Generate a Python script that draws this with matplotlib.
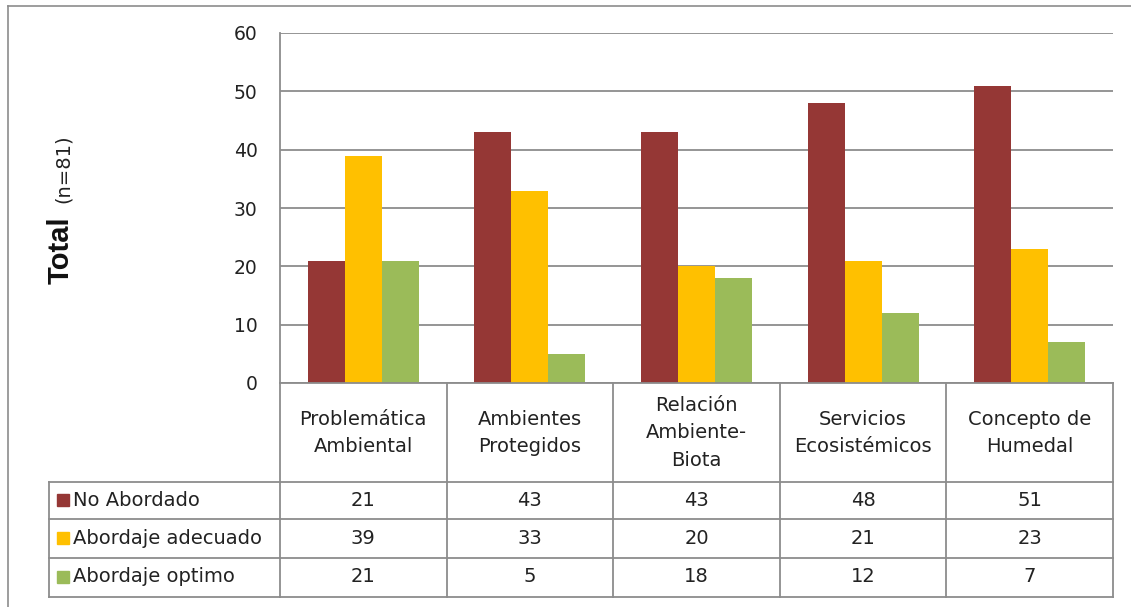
import matplotlib.pyplot as plt
import matplotlib.transforms as mtransforms
from matplotlib.patches import Rectangle
from matplotlib.lines import Line2D
import numpy as np

categories = ["Problemática\nAmbiental", "Ambientes\nProtegidos", "Relación\nAmbiente-\nBiota",
              "Servicios\nEcosistémicos", "Concepto de\nHumedal"]
series_names = ["No Abordado", "Abordaje adecuado", "Abordaje optimo"]
no_abordado = [21, 43, 43, 48, 51]
abordaje_adecuado = [39, 33, 20, 21, 23]
abordaje_optimo = [21, 5, 18, 12, 7]
colors = ["#953735", "#FFC000", "#9BBB59"]
yticks = [0, 10, 20, 30, 40, 50, 60]

W, H = 1131, 607
plt.rcParams['font.family'] = ['DejaVu Sans']
fig = plt.figure(figsize=(W / 100, H / 100), dpi=100)

def fx(px):
    return px / W

def fy(py):
    return 1 - py / H

grid_c = "#8c8c8c"
text_c = "#222222"
fs = 14

ax = fig.add_axes([fx(280), fy(383), fx(1113) - fx(280), fy(33) - fy(383)])
values = [no_abordado, abordaje_adecuado, abordaje_optimo]
x = np.arange(len(categories))
bw = 0.222
for i, (vals, c) in enumerate(zip(values, colors)):
    ax.bar(x + (i - 1) * bw, vals, bw, color=c, zorder=3)

ax.set_xlim(-0.5, len(categories) - 0.5)
ax.set_ylim(0, 60)
ax.set_yticks(yticks)
ax.set_yticklabels([str(t) for t in yticks], fontsize=13.5, color=text_c)
ax.tick_params(axis='y', length=0, pad=16)
ax.set_xticks([])
ax.yaxis.grid(True, color=grid_c, lw=1.3, zorder=0)
for s in ["top", "right", "bottom"]:
    ax.spines[s].set_visible(False)
ax.spines["left"].set_color(grid_c)
ax.spines["left"].set_linewidth(1.3)

# y label
fig.text(fx(61), fy(250), "Total", rotation=90, ha='center', va='center',
         fontsize=21, fontweight='bold', family=['Liberation Sans', 'DejaVu Sans'], color="#111111")
fig.text(fx(63), fy(169), "(n=81)", rotation=90, ha='center', va='center',
         fontsize=fs, color=text_c)

# data table under the axis
tr = mtransforms.blended_transform_factory(ax.transData, fig.transFigure)
row_lines = [383, 482, 519, 558, 597]
lw_t = 1.3
for i in range(len(categories) + 1):
    fig.add_artist(Line2D([i - 0.5, i - 0.5], [fy(383), fy(597)], transform=tr, color=grid_c, lw=lw_t))
for py in row_lines:
    fig.add_artist(Line2D([-0.5, len(categories) - 0.5], [fy(py), fy(py)], transform=tr, color=grid_c, lw=lw_t))
for py in row_lines[1:]:
    fig.add_artist(Line2D([fx(49), fx(280)], [fy(py), fy(py)], color=grid_c, lw=lw_t))
fig.add_artist(Line2D([fx(49), fx(49)], [fy(482), fy(597)], color=grid_c, lw=lw_t))

for i, cat in enumerate(categories):
    fig.text(i, fy(433), cat, transform=tr, ha='center', va='center', fontsize=fs,
             color=text_c, linespacing=1.55)

row_y = [500, 538, 577]
for r, (name, vals, c) in enumerate(zip(series_names, values, colors)):
    yy = fy(row_y[r])
    fig.add_artist(Rectangle((fx(57), yy - 6 / H), 12 / W, 12 / H, color=c, transform=fig.transFigure))
    fig.text(fx(73), yy, name, ha='left', va='center', fontsize=fs, color=text_c)
    for i, v in enumerate(vals):
        fig.text(i, yy, str(v), transform=tr, ha='center', va='center', fontsize=fs, color=text_c)

# outer chart border (cut off at right and bottom in the original)
fig.add_artist(Line2D([fx(8), 1], [fy(6), fy(6)], color="#8c8c8c", lw=1.2))
fig.add_artist(Line2D([fx(8), fx(8)], [fy(6), 0], color="#8c8c8c", lw=1.2))

fig.savefig("out.png", dpi=100)
